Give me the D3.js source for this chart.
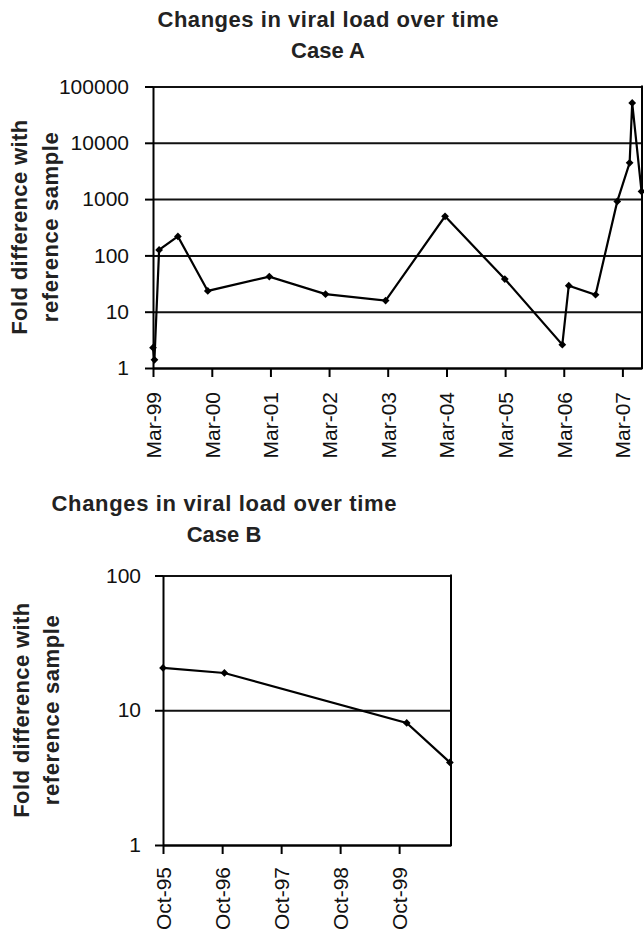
<!DOCTYPE html>
<html>
<head>
<meta charset="utf-8">
<script src="https://cdn.jsdelivr.net/npm/d3@7/dist/d3.min.js"></script>
<style>
    body { margin: 0; background: #fff; }
    svg { display: block; font-family: "Liberation Sans", Arial, sans-serif; }
    .axis path, .axis line { stroke: #000; stroke-width: 2; }
    .axis text { font-size: 21px; fill: #111; }
    .grid line { stroke: #111; stroke-width: 2; }
    .grid path { display: none; }
    .title, .ytitle { font-weight: bold; font-size: 22px; fill: #222; }
    .series { fill: none; stroke: #000; stroke-width: 2.2; }
</style>
</head>
<body>
<svg width="644" height="938"></svg>
<script>
// Case A
let caseADates = ["1999-03-01", "1999-03-10", "1999-04-08", "1999-08-03", "2000-02-05", "2001-02-22",
    "2002-02-07", "2003-02-16", "2004-02-21", "2005-02-27", "2006-02-20", "2006-04-01",
    "2006-09-15", "2007-01-28", "2007-04-15", "2007-05-01", "2007-06-28"];
let caseAValues = [2.3, 1.4, 125, 217, 23.4, 42, 20.5, 15.8, 494, 38, 2.6, 29, 20, 910, 4400, 51000, 1370];
let caseAXTicks = ["1999-03-01", "2000-03-01", "2001-03-01", "2002-03-01", "2003-03-01",
    "2004-03-01", "2005-03-01", "2006-03-01", "2007-03-01"];
let caseAXEnd = "2007-07-01";
let caseAYTicks = [1, 10, 100, 1000, 10000, 100000];

// Case B
let caseBDates = ["1995-10-01", "1996-10-15", "1999-11-17", "2000-08-10"];
let caseBValues = [20.6, 18.9, 8.05, 4.1];
let caseBXTicks = ["1995-10-01", "1996-10-01", "1997-10-01", "1998-10-01", "1999-10-01"];
let caseBXEnd = "2000-08-17";
let caseBYTicks = [1, 10, 100];

let parseDate = d3.timeParse("%Y-%m-%d");
let fmtDate = d3.timeFormat("%b-%y");
let svg = d3.select("svg");

let drawPanel = function (opt) {
    let data = opt.dates.map(function (d, i) {
        return { date: parseDate(d), value: opt.values[i] };
    });
    let ticks = opt.xTicks.map(parseDate);

    let x = d3.scaleTime()
        .domain([ticks[0], parseDate(opt.xEnd)])
        .range([opt.left, opt.right]);
    let y = d3.scaleLog()
        .domain([opt.yTicks[0], opt.yTicks[opt.yTicks.length - 1]])
        .range([opt.bottom, opt.top]);

    // horizontal gridlines
    svg.append("g")
        .attr("class", "grid")
        .attr("transform", "translate(" + opt.left + ",0)")
        .call(d3.axisLeft(y).tickValues(opt.yTicks)
            .tickSize(-(opt.right - opt.left))
            .tickFormat(""));

    // right border
    svg.append("line")
        .attr("x1", opt.right).attr("x2", opt.right)
        .attr("y1", opt.top - 1).attr("y2", opt.bottom + 1)
        .attr("stroke", "#000")
        .attr("stroke-width", 2);

    svg.append("g")
        .attr("class", "axis")
        .attr("transform", "translate(" + opt.left + ",0)")
        .call(d3.axisLeft(y).tickValues(opt.yTicks)
            .tickFormat(d3.format("d"))
            .tickSize(8).tickSizeOuter(0)
            .tickPadding(opt.yPad));

    let xAxis = svg.append("g")
        .attr("class", "axis")
        .attr("transform", "translate(0," + opt.bottom + ")")
        .call(d3.axisBottom(x).tickValues(ticks)
            .tickFormat(fmtDate)
            .tickSize(9).tickSizeOuter(0));
    xAxis.selectAll("text")
        .attr("x", -opt.xPad)
        .attr("y", 0)
        .attr("dy", "0.35em")
        .attr("text-anchor", "end")
        .attr("transform", "rotate(-90)");

    let line = d3.line()
        .x(d => x(d.date))
        .y(d => y(d.value));

    svg.append("path")
        .datum(data)
        .attr("class", "series")
        .attr("d", line);

    svg.selectAll(null)
        .data(data)
        .enter().append("path")
        .attr("d", d3.symbol().type(d3.symbolSquare).size(30))
        .attr("transform", d => "translate(" + x(d.date) + "," + y(d.value) + ")rotate(45)")
        .attr("fill", "#000");

    // titles
    opt.title.forEach(function (t, i) {
        let el = svg.append("text")
            .attr("class", "title")
            .attr("text-anchor", "middle")
            .attr("x", opt.titleX)
            .attr("y", opt.titleY + i * 30.5)
            .text(t);
        if (i === 0) el.attr("textLength", opt.titleLen).attr("lengthAdjust", "spacing");
    });

    let midY = (opt.top + opt.bottom) / 2;
    ["Fold difference with", "reference sample"].forEach(function (t, i) {
        svg.append("text")
            .attr("class", "ytitle")
            .attr("text-anchor", "middle")
            .attr("transform", "translate(" + opt.yTitleX[i] + "," + midY + ")rotate(-90)")
            .attr("textLength", i === 0 ? 215 : 190)
            .attr("lengthAdjust", "spacing")
            .text(t);
    });
};

drawPanel({
    dates: caseADates, values: caseAValues, xTicks: caseAXTicks, xEnd: caseAXEnd, yTicks: caseAYTicks,
    left: 153, right: 642, top: 86.5, bottom: 368,
    yPad: 16, xPad: 24,
    title: ["Changes in viral load over time", "Case A"], titleX: 328, titleY: 27, titleLen: 341,
    yTitleX: [27, 58]
});

drawPanel({
    dates: caseBDates, values: caseBValues, xTicks: caseBXTicks, xEnd: caseBXEnd, yTicks: caseBYTicks,
    left: 163, right: 451, top: 575.5, bottom: 845,
    yPad: 14, xPad: 22,
    title: ["Changes in viral load over time", "Case B"], titleX: 224, titleY: 511, titleLen: 345,
    yTitleX: [29, 59]
});
</script>
</body>
</html>
